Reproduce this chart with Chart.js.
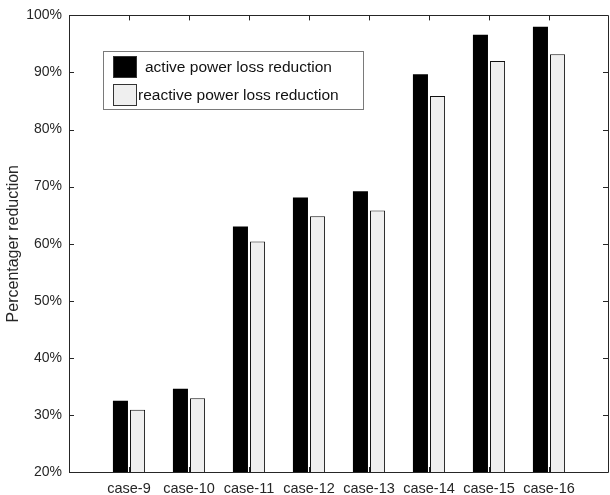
<!DOCTYPE html>
<html>
<head>
<meta charset="utf-8">
<script src="https://cdn.jsdelivr.net/npm/chart.js@4/dist/chart.umd.min.js"></script>
<style>
  html, body { margin: 0; padding: 0; background: #fff; overflow: hidden; }
  #wrap { width: 610px; height: 495px; position: relative; }
  canvas { display: block; }
</style>
</head>
<body>
<div id="wrap"><canvas id="dataChart"></canvas></div>
<script>
// cases on the x axis
var cases = ["case-9", "case-10", "case-11", "case-12", "case-13", "case-14", "case-15", "case-16"];
// % reduction
var activeLoss = [32.5, 34.6, 63.0, 68.1, 69.2, 89.7, 96.6, 98.0];
var reactiveLoss = [30.9, 32.9, 60.4, 64.8, 65.8, 85.9, 92.0, 93.2];
var yTicks = [20, 30, 40, 50, 60, 70, 80, 90, 100];

// matlab style: empty slot at both ends (xlim 0..9)
var labels = [""].concat(cases, [""]);
function pad(arr) { return [null].concat(arr, [null]); }

var axisColor = "#262626";
var font = "'Liberation Sans', Arial, sans-serif";

// box round the axes with inward ticks
var framePlugin = {
  id: "frame",
  afterDraw: function (chart) {
    var c = chart.ctx, a = chart.chartArea;
    var xs = chart.scales.x, ys = chart.scales.y;
    c.save();
    c.strokeStyle = axisColor;
    c.lineWidth = 1;
    c.beginPath();
    c.rect(Math.round(a.left) + 0.5, Math.round(a.top) + 0.5,
      Math.round(a.right - a.left) - 1, Math.round(a.bottom - a.top));
    for (var i = 1; i <= cases.length; i++) {
      var px = Math.round(xs.getPixelForValue(i)) + 0.5;
      c.moveTo(px, a.top); c.lineTo(px, a.top + 5);
      c.moveTo(px, a.bottom); c.lineTo(px, a.bottom - 5);
    }
    yTicks.forEach(function (v) {
      var py = Math.round(ys.getPixelForValue(v)) + 0.5;
      c.moveTo(a.left, py); c.lineTo(a.left + 5, py);
      c.moveTo(a.right - 1, py); c.lineTo(a.right - 6, py);
    });
    c.stroke();

    // legend box
    var lx = 103.5, ly = 51.5, lw = 260, lh = 58;
    c.fillStyle = "#fff";
    c.fillRect(lx, ly, lw, lh);
    c.strokeStyle = "#7a7a7a";
    c.strokeRect(lx, ly, lw, lh);
    c.font = "15.5px " + font;
    c.textBaseline = "middle";
    var ds = chart.data.datasets;
    var rows = [{ y: 56, tx: 145 }, { y: 84, tx: 138 }];
    ds.forEach(function (d, k) {
      var r = rows[k];
      c.fillStyle = d.backgroundColor;
      c.fillRect(113, r.y, 24, 22);
      c.strokeStyle = "#333";
      c.strokeRect(113.5, r.y + 0.5, 23, 21);
      c.fillStyle = "#111";
      c.fillText(d.label, r.tx, r.y + 12);
    });
    c.restore();
  }
};

var ctx = document.getElementById("dataChart");

var chart = new Chart(ctx, {
  type: "bar",
  data: {
    labels: labels,
    datasets: [{
      label: "active power loss reduction",
      data: pad(activeLoss),
      backgroundColor: "#000000",
      borderColor: "#000000",
      borderWidth: 0
    },
    {
      label: "reactive power loss reduction",
      data: pad(reactiveLoss),
      backgroundColor: "#efefef",
      borderColor: "#111111",
      borderWidth: 1
    }]
  },
  options: {
    responsive: true,
    maintainAspectRatio: false,
    animation: false,
    categoryPercentage: 0.57,
    barPercentage: 0.88,
    layout: { padding: { top: 14, right: 1, left: 0, bottom: 0 } },
    plugins: {
      legend: { display: false },
      tooltip: { enabled: false }
    },
    scales: {
      x: {
        offset: false,
        grid: { display: false, drawTicks: false },
        border: { display: false },
        ticks: {
          autoSkip: false, maxRotation: 0, padding: 8,
          color: axisColor, font: { family: font, size: 14.5 }
        },
        afterFit: function (s) {
          s.height = 23;
          s.paddingLeft = 0;
          s.paddingRight = 0;
        }
      },
      y: {
        min: 20, max: 100,
        grid: { display: false, drawTicks: false },
        border: { display: false },
        ticks: {
          stepSize: 10, padding: 7,
          color: axisColor, font: { family: font, size: 14 },
          callback: function (v) { return v + "%"; }
        },
        title: {
          display: true, text: "Percentager reduction",
          color: axisColor, font: { family: font, size: 16 },
          padding: { top: 4, bottom: 0 }
        },
        afterFit: function (s) { s.width = 69; }
      }
    }
  },
  plugins: [framePlugin]
});
</script>
</body>
</html>
